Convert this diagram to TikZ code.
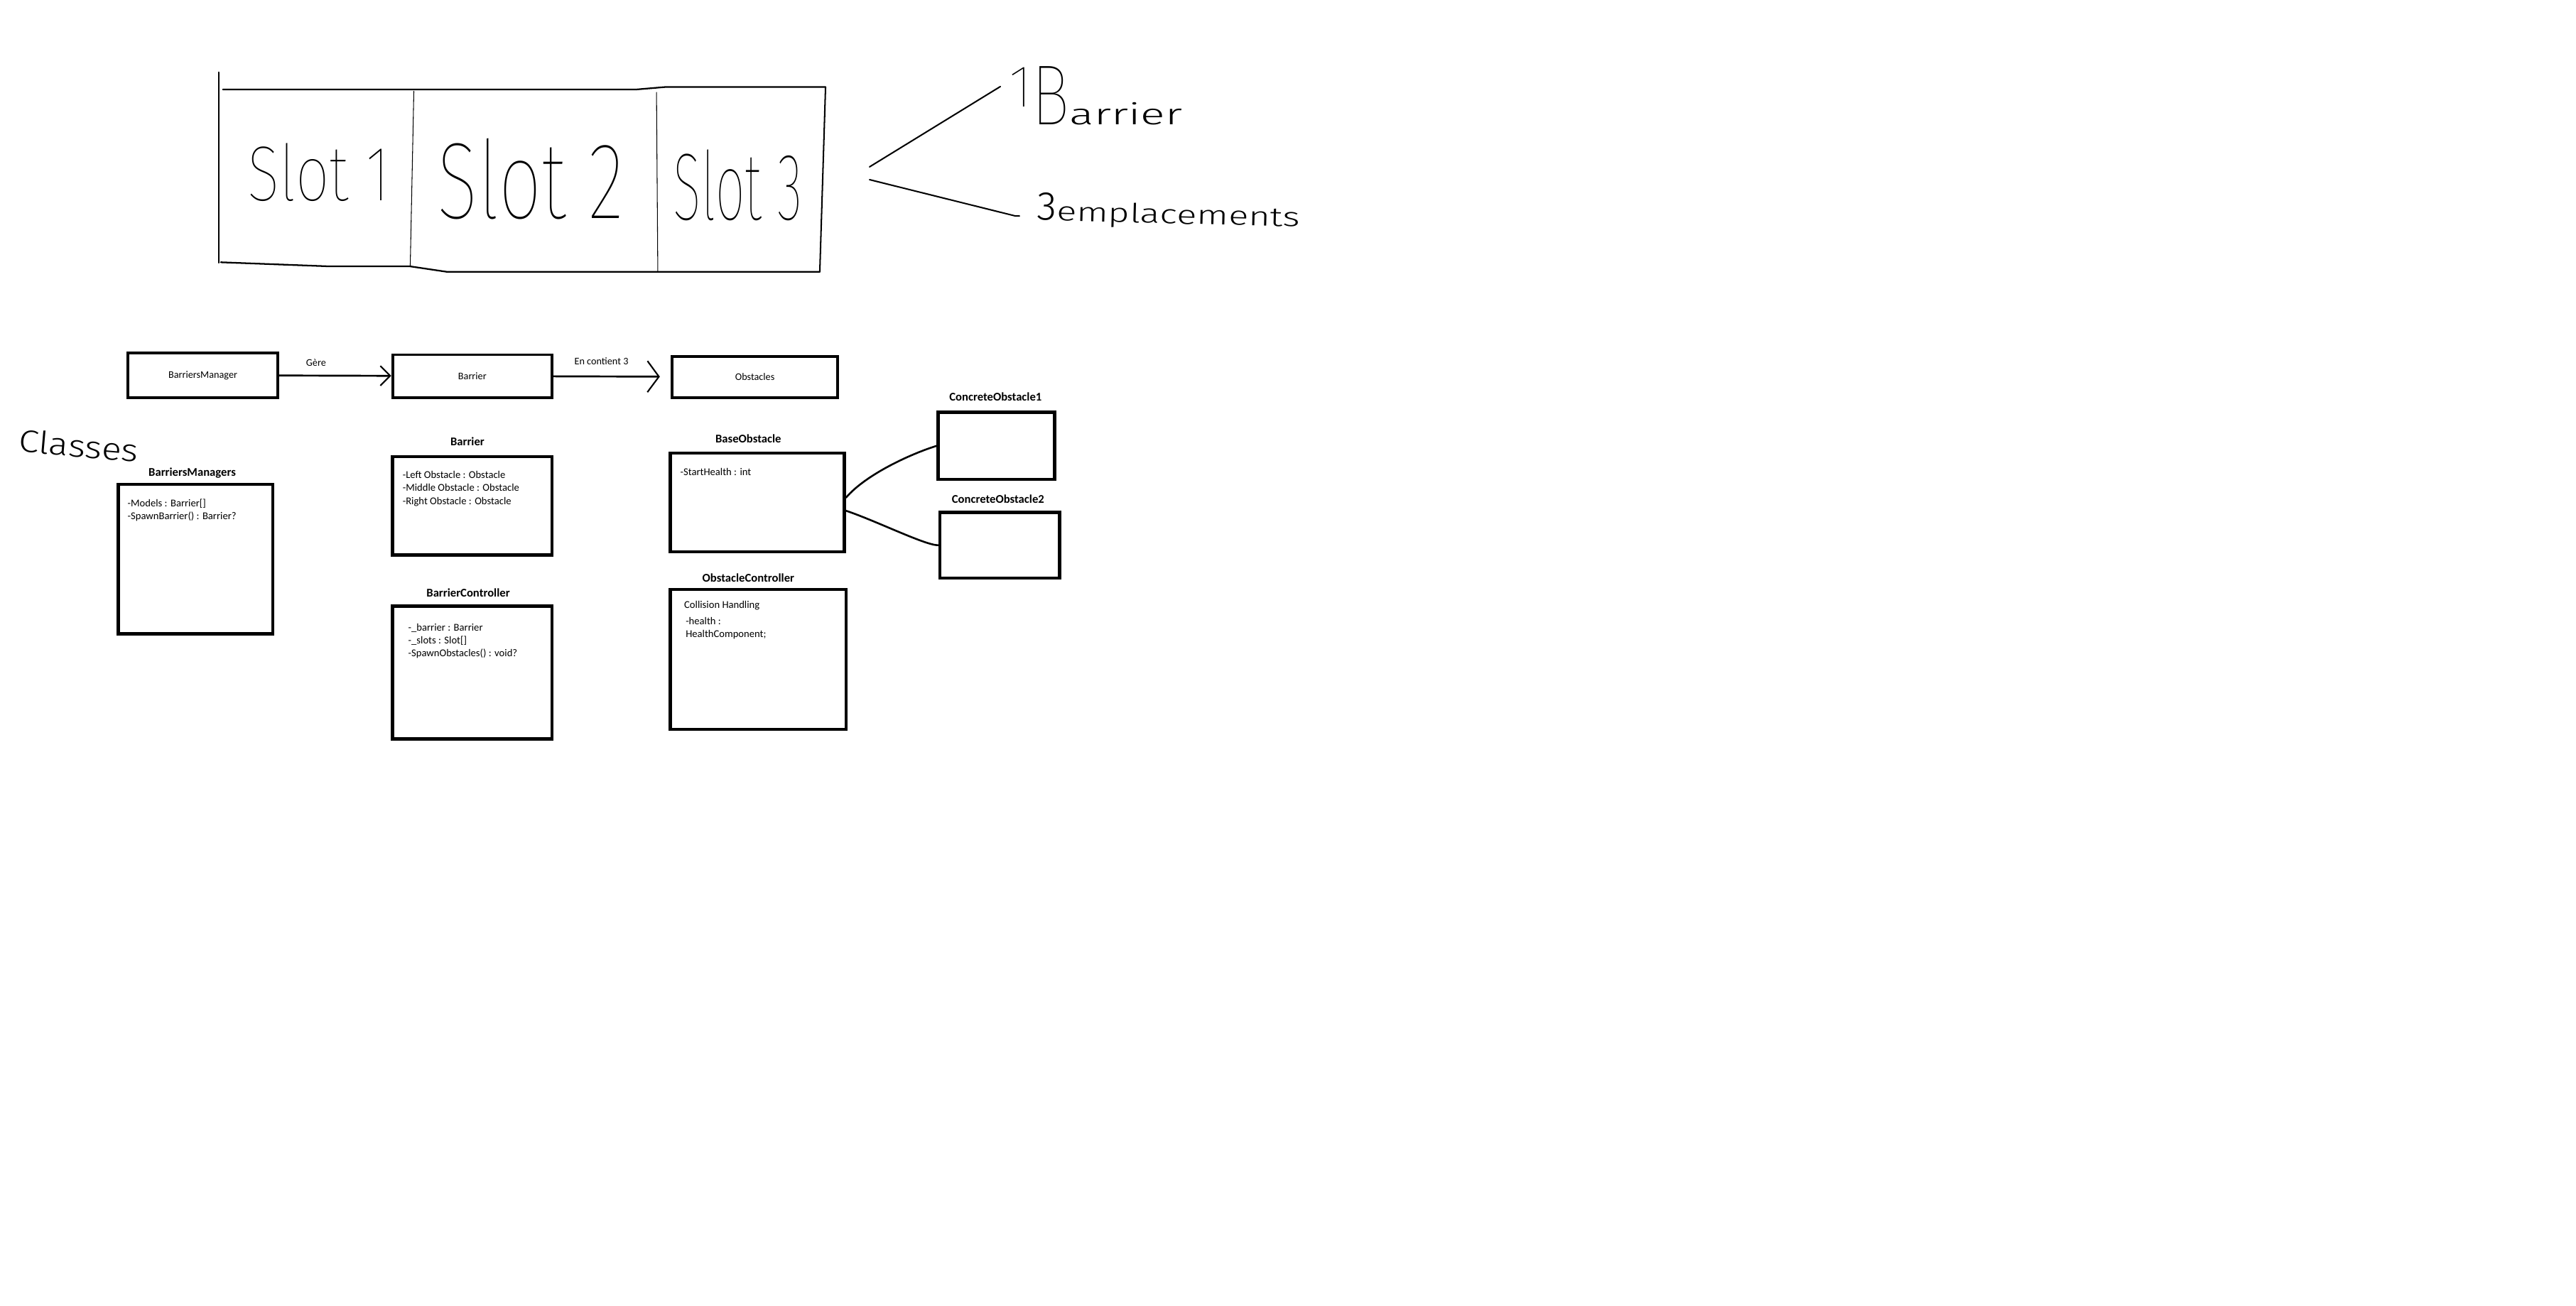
\documentclass[tikz,border=0pt]{standalone}
\usepackage{fontspec}
\usepackage{graphicx}
\setmainfont{Carlito}
\IfFontExistsTF{Fira Sans Thin}{\newfontfamily\handfont{Fira Sans Thin}}{%
  \IfFontExistsTF{Fira Sans UltraLight}{\newfontfamily\handfont{Fira Sans UltraLight}}{%
    \IfFontExistsTF{Fira Sans Light}{\newfontfamily\handfont{Fira Sans Light}}{%
      \newfontfamily\handfont{Fira Sans}}}}
\IfFontExistsTF{Fira Sans Light}{\newfontfamily\handfontb{Fira Sans Light}}{%
  \newfontfamily\handfontb{Fira Sans}}
\usetikzlibrary{arrows.meta, positioning}
\newcommand{\handtxt}[3]{\scalebox{#2}[1]{\handfont\fontsize{#1}{#1}\selectfont #3}}
\newcommand{\handtxtb}[3]{\scalebox{#2}[1]{\handfontb\fontsize{#1}{#1}\selectfont #3}}
\tikzset{
  classbox/.style={rectangle, draw, line width=5.5pt, inner sep=0pt},
  plainbox/.style={classbox, line width=4.8pt, font=\fontsize{17.5}{21}\selectfont},
  classname/.style={font=\fontsize{20.5}{24}\selectfont\bfseries, inner sep=0pt},
  members/.style={font=\fontsize{18}{22.5}\selectfont, align=left, inner sep=0pt},
  linklabel/.style={font=\fontsize{17.5}{21}\selectfont, inner sep=0pt, anchor=base},
  arrow/.style={-{Straight Barb[length=6mm, width=12mm, line width=2.6pt]}, line width=3.3pt},
  bigarrow/.style={-{Straight Barb[length=7mm, width=19mm, line width=2.6pt]}, line width=3.3pt},
  hand/.style={line width=2.5pt, line cap=round, line join=round},
  thinhand/.style={line width=1.3pt, line cap=round},
  inherit/.style={line width=3.2pt, line cap=round},
}

\begin{document}
\begin{tikzpicture}[x=1mm, y=-1mm]

  \path[use as bounding box, fill=white] (0,0) rectangle (1568,795);

  % Hand sketch of one barrier
  \draw[hand] (133.1,44) -- (133.1,160);
  \draw[hand, line width=2.8pt] (135.7,54.5) -- (387.1,54.5) -- (404.8,53) -- (502.5,53);
  \draw[hand] (502.5,53) -- (499,165.5);
  \draw[hand, line width=2.8pt] (134.4,159.7) -- (200.9,162.2) -- (249.7,162.2) -- (271.9,165.5) -- (499,165.5);
  \draw[thinhand] (251.9,55.5) -- (249.7,162.2);
  \draw[thinhand] (399.6,56.2) -- (400.4,165.4);

  \node (slot1) at (194,105) {\handtxt{135}{0.77}{Slot 1}};
  \node (slot2) at (323,109) {\handtxt{188}{0.7}{Slot 2}};
  \node (slot3) at (449,113) {\handtxt{165}{0.55}{Slot 3}};

  \node[anchor=base west, inner sep=0pt] (onebar) at (614,76)
    {\raisebox{1.1cm}{\handtxt{103}{1}{1}}\handtxt{148}{0.75}{B}\handtxtb{51}{1.55}{arrier}};
  \node[anchor=base west, inner sep=0pt, rotate=-1.5] (empl) at (631,134)
    {\handtxtb{70}{1}{3}\handtxtb{46}{1.4}{emplacements}};

  \coordinate (braceA) at (529.3,101.6);
  \coordinate (braceB) at (529.3,109.4);
  \coordinate (braceAend) at (608.9,52.7);
  \coordinate (braceBend) at (620.5,131.5);
  \draw[hand] (braceA) -- (braceAend);
  \draw[hand] (braceB) -- (618,131.5) -- (braceBend);

  % Overview
  \node[plainbox, minimum width=9.1cm, minimum height=2.7cm] (mgr) at (123.5,228.5) {BarriersManager};
  \node[plainbox, minimum width=9.7cm, minimum height=2.6cm] (bar) at (287.5,229) {Barrier};
  \node[plainbox, minimum width=10.1cm, minimum height=2.5cm] (obs) at (459.5,229.5) {Obstacles};

  \draw[arrow] (mgr) -- (bar) node[linklabel, pos=0.33, yshift=6mm] (gere) {Gère};
  \draw[bigarrow, shorten >=6.5mm] (bar) -- (obs) node[linklabel, pos=0.41, yshift=7mm] (encont) {En contient 3};

  % Classes
  \node[anchor=base west, inner sep=0pt, rotate=-5] (classes) at (11,275) {\handtxtb{54}{1.18}{Classes}};

  \node[classbox, minimum width=9.4cm, minimum height=9.1cm] (bmc) at (119,340.5) {};
  \node[classbox, minimum width=9.7cm, minimum height=6.0cm] (barc) at (287.5,308) {};
  \node[classbox, minimum width=9.7cm, minimum height=8.1cm] (barctl) at (287.5,409.5) {};
  \node[classbox, minimum width=10.6cm, minimum height=6.0cm] (baso) at (461,306) {};
  \node[classbox, minimum width=10.7cm, minimum height=8.5cm] (obsctl) at (461.5,401.5) {};
  \node[classbox, minimum width=7.1cm, minimum height=4.1cm] (cob1) at (606.5,271.5) {};
  \node[classbox, minimum width=7.3cm, minimum height=4.0cm] (cob2) at (608.5,332) {};

  \node[classname, above=4mm of bmc, anchor=base, xshift=-2mm] (bmct) {BarriersManagers};
  \node[classname, above=5.5mm of barc, anchor=base, xshift=-3mm] (barct) {Barrier};
  \node[classname, above=4.6mm of barctl, anchor=base, xshift=-2.5mm] (barctlt) {BarrierController};
  \node[classname, above=5.4mm of baso, anchor=base, xshift=-5.5mm] (basot) {BaseObstacle};
  \node[classname, above=3.6mm of obsctl, anchor=base, xshift=-6mm] (obsctlt) {ObstacleController};
  \node[classname, above=5.8mm of cob1, anchor=base, xshift=-0.5mm] (cob1t) {ConcreteObstacle1};
  \node[classname, above=4.5mm of cob2, anchor=base, xshift=-1mm] (cob2t) {ConcreteObstacle2};

  \node[members, below right=0.98cm and 0.66cm of bmc.north west] (bmcm)
    {-Models : Barrier[]\\-SpawnBarrier() : Barrier?};
  \node[members, below right=0.98cm and 0.7cm of barc.north west] (barcm)
    {-Left Obstacle : Obstacle\\-Middle Obstacle : Obstacle\\-Right Obstacle : Obstacle};
  \node[members, below right=1.15cm and 1.04cm of barctl.north west] (barctlm)
    {-\_barrier : Barrier\\-\_slots : Slot[]\\-SpawnObstacles() : void?};
  \node[members, below right=0.98cm and 0.7cm of baso.north west] (basom) {-StartHealth : int};
  \node[members, below right=0.77cm and 0.94cm of obsctl.north west] (obsctlc) {Collision Handling};
  \node[members, below right=1.77cm and 1.03cm of obsctl.north west] (obsctlm) {-health :\\HealthComponent;};

  % Inheritance
  \draw[inherit] ([yshift=3mm]baso.east) .. controls +(12,-14) and +(-16,5) .. (cob1.west);
  \draw[inherit] ([yshift=-5mm]baso.east) .. controls +(18,6) and +(-8,0) .. (cob2.west);

\end{tikzpicture}
\end{document}
